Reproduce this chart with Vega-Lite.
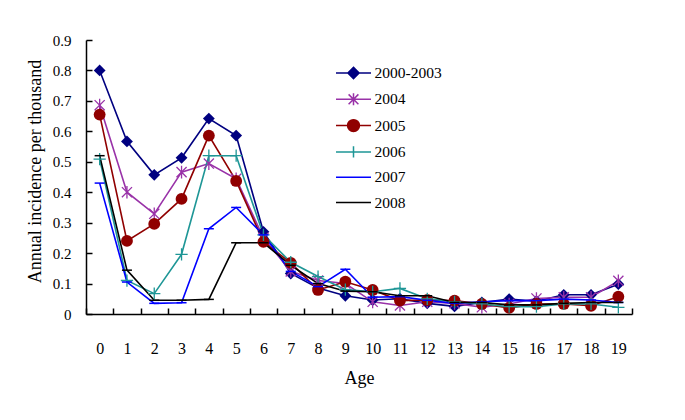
{
  "$schema": "https://vega.github.io/schema/vega-lite/v6.json",
  "width": 546,
  "height": 274,
  "autosize": "none",
  "padding": {"left": 86, "top": 40, "right": 53, "bottom": 106},
  "background": "white",
  "config": {
    "view": {"stroke": null},
    "font": "Liberation Serif",
    "axis": {
      "grid": false,
      "domainColor": "black",
      "domainWidth": 1.5,
      "tickColor": "black",
      "tickWidth": 1.5,
      "tickSize": -6,
      "labelColor": "black",
      "titleColor": "black",
      "labelFont": "Liberation Serif",
      "titleFont": "Liberation Serif",
      "titleFontWeight": "normal"
    }
  },
  "datasets": {
    "incidence": [
      {"age":0,"series":"2000-2003","value":0.80},{"age":1,"series":"2000-2003","value":0.567},{"age":2,"series":"2000-2003","value":0.457},{"age":3,"series":"2000-2003","value":0.513},{"age":4,"series":"2000-2003","value":0.642},{"age":5,"series":"2000-2003","value":0.586},{"age":6,"series":"2000-2003","value":0.27},{"age":7,"series":"2000-2003","value":0.133},{"age":8,"series":"2000-2003","value":0.085},{"age":9,"series":"2000-2003","value":0.06},{"age":10,"series":"2000-2003","value":0.046},{"age":11,"series":"2000-2003","value":0.05},{"age":12,"series":"2000-2003","value":0.035},{"age":13,"series":"2000-2003","value":0.025},{"age":14,"series":"2000-2003","value":0.038},{"age":15,"series":"2000-2003","value":0.049},{"age":16,"series":"2000-2003","value":0.042},{"age":17,"series":"2000-2003","value":0.063},{"age":18,"series":"2000-2003","value":0.063},{"age":19,"series":"2000-2003","value":0.098},
      {"age":0,"series":"2004","value":0.686},{"age":1,"series":"2004","value":0.40},{"age":2,"series":"2004","value":0.329},{"age":3,"series":"2004","value":0.466},{"age":4,"series":"2004","value":0.494},{"age":5,"series":"2004","value":0.444},{"age":6,"series":"2004","value":0.25},{"age":7,"series":"2004","value":0.14},{"age":8,"series":"2004","value":0.11},{"age":9,"series":"2004","value":0.10},{"age":10,"series":"2004","value":0.04},{"age":11,"series":"2004","value":0.028},{"age":12,"series":"2004","value":0.04},{"age":13,"series":"2004","value":0.035},{"age":14,"series":"2004","value":0.022},{"age":15,"series":"2004","value":0.033},{"age":16,"series":"2004","value":0.051},{"age":17,"series":"2004","value":0.055},{"age":18,"series":"2004","value":0.055},{"age":19,"series":"2004","value":0.109},
      {"age":0,"series":"2005","value":0.655},{"age":1,"series":"2005","value":0.24},{"age":2,"series":"2005","value":0.296},{"age":3,"series":"2005","value":0.378},{"age":4,"series":"2005","value":0.586},{"age":5,"series":"2005","value":0.437},{"age":6,"series":"2005","value":0.237},{"age":7,"series":"2005","value":0.168},{"age":8,"series":"2005","value":0.079},{"age":9,"series":"2005","value":0.106},{"age":10,"series":"2005","value":0.079},{"age":11,"series":"2005","value":0.044},{"age":12,"series":"2005","value":0.046},{"age":13,"series":"2005","value":0.044},{"age":14,"series":"2005","value":0.033},{"age":15,"series":"2005","value":0.02},{"age":16,"series":"2005","value":0.033},{"age":17,"series":"2005","value":0.033},{"age":18,"series":"2005","value":0.027},{"age":19,"series":"2005","value":0.057},
      {"age":0,"series":"2006","value":0.509},{"age":1,"series":"2006","value":0.11},{"age":2,"series":"2006","value":0.067},{"age":3,"series":"2006","value":0.196},{"age":4,"series":"2006","value":0.52},{"age":5,"series":"2006","value":0.52},{"age":6,"series":"2006","value":0.26},{"age":7,"series":"2006","value":0.17},{"age":8,"series":"2006","value":0.123},{"age":9,"series":"2006","value":0.08},{"age":10,"series":"2006","value":0.073},{"age":11,"series":"2006","value":0.084},{"age":12,"series":"2006","value":0.05},{"age":13,"series":"2006","value":0.04},{"age":14,"series":"2006","value":0.033},{"age":15,"series":"2006","value":0.024},{"age":16,"series":"2006","value":0.024},{"age":17,"series":"2006","value":0.033},{"age":18,"series":"2006","value":0.033},{"age":19,"series":"2006","value":0.022},
      {"age":0,"series":"2007","value":0.43},{"age":1,"series":"2007","value":0.105},{"age":2,"series":"2007","value":0.035},{"age":3,"series":"2007","value":0.037},{"age":4,"series":"2007","value":0.28},{"age":5,"series":"2007","value":0.35},{"age":6,"series":"2007","value":0.26},{"age":7,"series":"2007","value":0.14},{"age":8,"series":"2007","value":0.09},{"age":9,"series":"2007","value":0.147},{"age":10,"series":"2007","value":0.055},{"age":11,"series":"2007","value":0.057},{"age":12,"series":"2007","value":0.045},{"age":13,"series":"2007","value":0.035},{"age":14,"series":"2007","value":0.04},{"age":15,"series":"2007","value":0.044},{"age":16,"series":"2007","value":0.044},{"age":17,"series":"2007","value":0.049},{"age":18,"series":"2007","value":0.046},{"age":19,"series":"2007","value":0.038},
      {"age":0,"series":"2008","value":0.52},{"age":1,"series":"2008","value":0.144},{"age":2,"series":"2008","value":0.045},{"age":3,"series":"2008","value":0.045},{"age":4,"series":"2008","value":0.048},{"age":5,"series":"2008","value":0.234},{"age":6,"series":"2008","value":0.234},{"age":7,"series":"2008","value":0.16},{"age":8,"series":"2008","value":0.10},{"age":9,"series":"2008","value":0.075},{"age":10,"series":"2008","value":0.073},{"age":11,"series":"2008","value":0.06},{"age":12,"series":"2008","value":0.06},{"age":13,"series":"2008","value":0.038},{"age":14,"series":"2008","value":0.038},{"age":15,"series":"2008","value":0.03},{"age":16,"series":"2008","value":0.03},{"age":17,"series":"2008","value":0.035},{"age":18,"series":"2008","value":0.038},{"age":19,"series":"2008","value":0.038}
    ]
  },
  "data": {"name": "incidence"},
  "encoding": {
    "x": {
      "field": "age",
      "type": "quantitative",
      "scale": {"domain": [-0.5, 19.5], "nice": false, "zero": false},
      "axis": {
        "title": "Age",
        "titleFontSize": 18,
        "titleBaseline": "alphabetic",
        "titleX": 273,
        "titleY": 69,
        "values": [-0.5,0.5,1.5,2.5,3.5,4.5,5.5,6.5,7.5,8.5,9.5,10.5,11.5,12.5,13.5,14.5,15.5,16.5,17.5,18.5,19.5],
        "labelExpr": "datum.value < 0 ? '' : format(datum.value - 0.5, 'd')",
        "labelOffset": -13.65,
        "labelFlush": false,
        "labelOverlap": false,
        "labelFontSize": 16,
        "labelPadding": 32
      }
    },
    "y": {
      "field": "value",
      "type": "quantitative",
      "scale": {"domain": [0, 0.9], "nice": false},
      "axis": {
        "title": "Annual incidence per thousand",
        "titleFontSize": 18,
        "titleBaseline": "middle",
        "titleX": -51,
        "titleY": 131,
        "titleAngle": -90,
        "values": [0,0.1,0.2,0.3,0.4,0.5,0.6,0.7,0.8,0.9],
        "labelExpr": "datum.value == 0 ? '0' : format(datum.value, '.1f')",
        "labelFontSize": 15,
        "labelPadding": 21
      }
    },
    "color": {
      "field": "series",
      "type": "nominal",
      "scale": {
        "domain": ["2000-2003","2004","2005","2006","2007","2008"],
        "range": ["#000080","#9932A8","#900000","#1E9696","#0000FF","#000000"]
      },
      "legend": null
    }
  },
  "layer": [
    {
      "mark": {"type": "line", "strokeWidth": 1.6},
      "encoding": {
        "color": {
          "field": "series",
          "type": "nominal",
          "legend": {
            "title": null,
            "orient": "none",
            "legendX": 259.5,
            "legendY": 25,
            "padding": 0,
            "rowPadding": 8.3,
            "labelFontSize": 15.5,
            "labelFont": "Liberation Serif",
            "labelColor": "black",
            "labelOffset": 13,
            "symbolSize": 196,
            "encode": {
              "symbols": {
                "update": {
                  "shape": {"signal": "datum.value === '2000-2003' ? 'M-2.5,0L2.5,0M0,-0.8L0.8,0L0,0.8L-0.8,0Z' : datum.value === '2004' ? 'M-2.5,0L2.5,0M0,-0.85L0,0.85M-0.7,-0.7L0.7,0.7M-0.7,0.7L0.7,-0.7' : datum.value === '2005' ? 'M-2.5,0L2.5,0M-0.85,0A0.85,0.85,0,1,0,0.85,0A0.85,0.85,0,1,0,-0.85,0Z' : datum.value === '2006' ? 'M-2.5,0L2.5,0M0,-0.8L0,0.8' : 'M-2.5,0L2.5,0'"},
                  "fill": {"signal": "(datum.value === '2000-2003' || datum.value === '2005') ? scale('color', datum.value) : 'transparent'"},
                  "stroke": {"signal": "scale('color', datum.value)"},
                  "strokeWidth": {"value": 1.5},
                  "opacity": {"value": 1}
                }
              }
            }
          }
        }
      }
    },
    {
      "transform": [{"filter": "datum.series === '2000-2003'"}],
      "mark": {"type": "point", "filled": true, "opacity": 1, "size": 140, "shape": "M0,-1L1,0L0,1L-1,0Z"}
    },
    {
      "transform": [{"filter": "datum.series === '2004'"}],
      "mark": {"type": "point", "filled": false, "opacity": 1, "size": 160, "strokeWidth": 1.3, "shape": "M0,-1L0,1M-0.8,-0.8L0.8,0.8M-0.8,0.8L0.8,-0.8"}
    },
    {
      "transform": [{"filter": "datum.series === '2005'"}],
      "mark": {"type": "point", "filled": true, "opacity": 1, "size": 140, "shape": "circle"}
    },
    {
      "transform": [{"filter": "datum.series === '2006'"}],
      "mark": {"type": "point", "filled": false, "opacity": 1, "size": 150, "strokeWidth": 1.3, "shape": "M0,-1L0,1M-1,0L1,0"}
    },
    {
      "transform": [{"filter": "datum.series === '2007'"}],
      "mark": {"type": "point", "filled": false, "opacity": 1, "size": 100, "strokeWidth": 1.5, "shape": "M-1,0L1,0"}
    },
    {
      "transform": [{"filter": "datum.series === '2008'"}],
      "mark": {"type": "point", "filled": false, "opacity": 1, "size": 100, "strokeWidth": 1.5, "shape": "M-1,0L1,0"}
    }
  ]
}
